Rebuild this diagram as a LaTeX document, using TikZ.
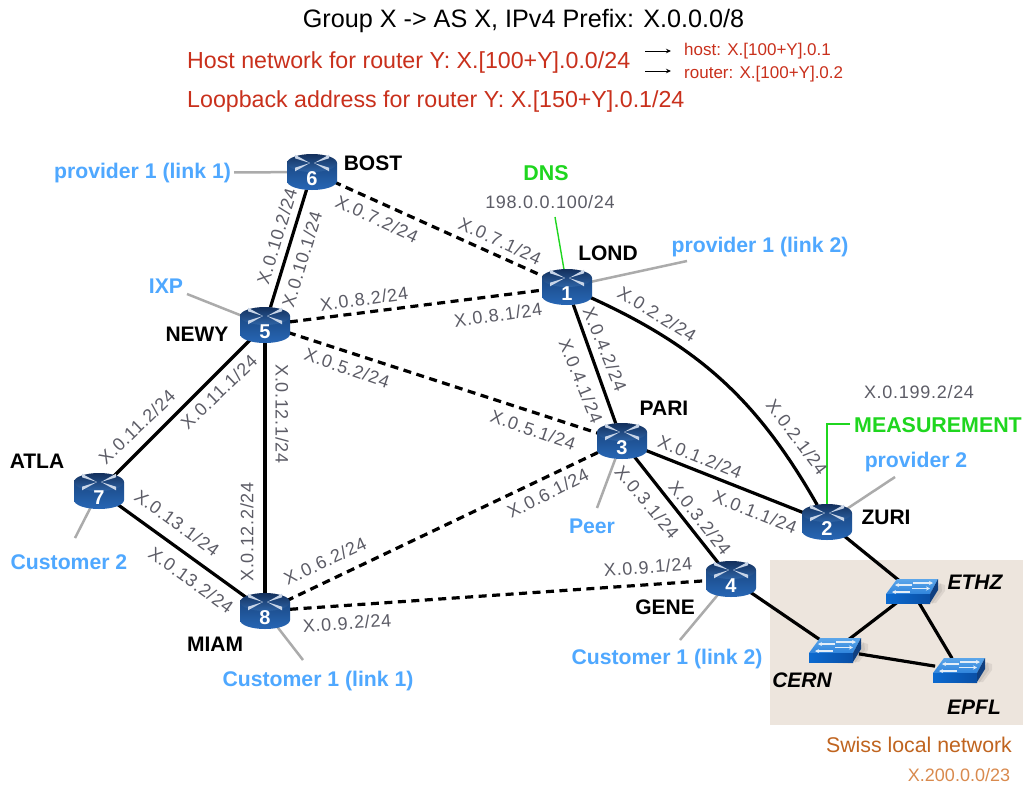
\documentclass[tikz,border=0pt]{standalone}
\usepackage{fontspec}
\setmainfont{Liberation Sans}
\newfontfamily\lblfont[LetterSpace=4]{Liberation Sans}
\usetikzlibrary{arrows.meta,shapes.geometric,backgrounds}
\definecolor{linkgrey}{HTML}{5C5C66}
\definecolor{stubgrey}{HTML}{ABABAB}
\definecolor{extblue}{HTML}{4FA8FF}
\definecolor{dnsgreen}{HTML}{1FD61F}
\definecolor{redtxt}{HTML}{C9301C}
\definecolor{swissbg}{HTML}{EDE5DD}
\definecolor{swisstxt}{HTML}{C0641F}
\definecolor{swisstxtb}{HTML}{D98A4E}
\definecolor{rdark}{HTML}{132F5C}
\definecolor{rmid}{HTML}{2E64A6}
\definecolor{rlow}{HTML}{2766B5}
\definecolor{rside}{HTML}{1B4A86}
\definecolor{rarm}{HTML}{C8D5E8}
\definecolor{stop}{HTML}{5CA6EA}
\definecolor{stopb}{HTML}{2F84DC}
\definecolor{sfront}{HTML}{0B6AD0}
\definecolor{sfrontb}{HTML}{0A4FA5}
\definecolor{sside}{HTML}{0F3F80}
\definecolor{sarrow}{HTML}{E4EEF8}
\tikzset{
  x=1pt,y=-1pt,
  plink/.style={line width=3.2pt,black},
  dlink/.style={line width=3.2pt,black,dash pattern=on 8pt off 5.5pt},
  stub/.style={line width=2.5pt,stubgrey},
  gline/.style={line width=1.4pt,dnsgreen},
  lbl/.style={inner sep=0pt,text=linkgrey,font=\fontsize{18}{18}\selectfont\lblfont},
  rname/.style={inner sep=0pt,text=black,font=\fontsize{21}{22}\selectfont\bfseries},
  swname/.style={inner sep=0pt,text=black,font=\fontsize{21}{22}\selectfont\bfseries\itshape},
  ext/.style={inner sep=0pt,text=extblue,font=\fontsize{21.2}{22}\selectfont\bfseries},
  gtxt/.style={inner sep=0pt,text=dnsgreen,font=\fontsize{21.4}{22}\selectfont\bfseries},
  smallg/.style={inner sep=0pt,text=linkgrey,font=\fontsize{18}{18}\selectfont\lblfont},
  redbig/.style={inner sep=0pt,text=redtxt,font=\fontsize{23.2}{26}\selectfont},
  redsmall/.style={inner sep=0pt,text=redtxt,font=\fontsize{17}{18}\selectfont},
  routernode/.style={ellipse,inner sep=0pt,minimum width=50pt,minimum height=36pt,text=white,font=\fontsize{20}{20}\selectfont\bfseries},
  switchnode/.style={ellipse,inner sep=0pt,minimum width=50pt,minimum height=24pt},
  swarrow/.style={sarrow,line width=1.5pt,-{Stealth[length=4pt,width=4pt]}},
  pics/routerpic/.style={code={
    \shade[top color=rside,bottom color=rlow]
      (-25,-9) -- (-25,9) .. controls (-25,14) and (-14,18) .. (0,18)
      .. controls (14,18) and (25,14) .. (25,9) -- (25,-9) -- cycle;
    \shade[top color=rdark,bottom color=rmid] (0,-9) ellipse (25 and 9);
    \foreach \a/\b in {-17/-15.5,17/-15.5,-17/-2.5,17/-2.5}{
      \fill[rarm] (\a,\b-1.8) -- (\a,\b+1.8) -- (0.12*\a,-9) -- cycle;
    }
  }},
  pics/switchpic/.style={code={
    \fill[black,opacity=.07] (-22,12) -- (24,12) -- (33,0) -- (33,-6) -- (26,-8) -- (18,14) -- cycle;
    \fill[black,opacity=.07] (20,13) -- (30,0) -- (29,-8) -- (18,6) -- cycle;
    \shade[top color=stop,bottom color=stopb] (-26,3) -- (18,3) -- (26,-12) -- (-15,-12) -- cycle;
    \shade[left color=sfront,right color=sfrontb] (-26,3) rectangle (18,12);
    \fill[sside] (18,3) -- (18,12) -- (26,-1) -- (26,-12) -- cycle;
    \draw[swarrow] (0,-6) -- (-17,-6);
    \draw[swarrow] (1,-8) -- (21,-8);
    \draw[swarrow] (-2,1) -- (-20,1);
    \draw[swarrow] (0,-2.5) -- (18,-2.5);
  }}
}
\begin{document}
\begin{tikzpicture}
\useasboundingbox (0,0) rectangle (1025,785);

% routers
\foreach \n/\px/\py in {1/567/287,2/827/522,3/622/441,4/731/579,5/265/325,6/312/172,7/99/491,8/265/611}{
  \pic at (\px,\py) {routerpic};
  \node[routernode] (r\n) at (\px,\py) {\raisebox{-13pt}[0pt][0pt]{\n}};
}
% switches
\foreach \n/\px/\py in {ethz/912/591,cern/835/650,epfl/959/670}{
  \pic at (\px,\py) {switchpic};
  \node[switchnode] (\n) at (\px,\py) {};
}

% free ends of stubs
\coordinate (sixp) at (187,294);
\coordinate (sp1l2) at (687,261);
\coordinate (speer) at (597,508);
\coordinate (sp2) at (895,477);
\coordinate (sc2) at (75,538);
\coordinate (sc1l1) at (303,660);
\coordinate (sc1l2) at (680,640);
\coordinate (sdns) at (555,217);
\coordinate (smeas) at (850,424);
\coordinate (smeasb) at (827,424);

% text labels
\node[font=\fontsize{25.2}{28}\selectfont,inner sep=0pt] (title) at (523.5,21) {Group X -> AS X, IPv4 Prefix: X.0.0.0/8};
\node[redbig,anchor=west] (hostnet) at (187,62) {Host network for router Y: X.[100+Y].0.0/24};
\node[redbig,anchor=west] (loopb) at (187,101) {Loopback address for router Y: X.[150+Y].0.1/24};
\node[redsmall,anchor=west] (hostaddr) at (684,51) {host: X.[100+Y].0.1};
\node[redsmall,anchor=west] (routeraddr) at (684,74) {router: X.[100+Y].0.2};
\coordinate (a1s) at (645,51);
\coordinate (a1e) at (671,51);
\coordinate (a2s) at (645,71);
\coordinate (a2e) at (671,71);
\draw[line width=1pt,-{Stealth[length=5pt,width=4.5pt]}] (a1s) -- (a1e);
\draw[line width=1pt,-{Stealth[length=5pt,width=4.5pt]}] (a2s) -- (a2e);

\node[rname] (nbost) at (373,163) {BOST};
\node[rname] (nlond) at (608,253) {LOND};
\node[rname] (nnewy) at (197,334) {NEWY};
\node[rname] (npari) at (664,408) {PARI};
\node[rname] (natla) at (37,461) {ATLA};
\node[rname] (nzuri) at (886,517) {ZURI};
\node[rname] (ngene) at (665,607) {GENE};
\node[rname] (nmiam) at (215,644) {MIAM};
\node[swname] (nethz) at (975,582) {ETHZ};
\node[swname] (ncern) at (802,680) {CERN};
\node[swname] (nepfl) at (974,707) {EPFL};

\node[ext] (ep1l1) at (142.5,173) {provider 1 (link 1)};
\node[ext] (eixp) at (166,286) {IXP};
\node[ext] (ep1l2) at (760,247) {provider 1 (link 2)};
\node[ext] (ep2) at (916,462) {provider 2};
\node[ext] (epeer) at (592,526) {Peer};
\node[ext] (ec2) at (69,562) {Customer 2};
\node[ext] (ec1l1) at (318,681) {Customer 1 (link 1)};
\node[ext] (ec1l2) at (667,659) {Customer 1 (link 2)};
\node[gtxt] (gdns) at (546,173) {DNS};
\node[gtxt] (gmeas) at (938,425) {MEASUREMENT};
\node[smallg] (ipdns) at (550,202) {198.0.0.100/24};
\node[smallg] (ipmeas) at (919,392) {X.0.199.2/24};
\node[inner sep=0pt,text=swisstxt,font=\fontsize{21.3}{24}\selectfont] (swiss) at (919,745) {Swiss local network};
\node[inner sep=0pt,text=swisstxtb,font=\fontsize{18}{20}\selectfont] (swissip) at (959,775) {X.200.0.0/23};

% link labels
\node[lbl,rotate=73] (l1) at (277,236) {X.0.10.2/24};
\node[lbl,rotate=73] (l2) at (302,259) {X.0.10.1/24};
\node[lbl,rotate=-25] (l3) at (377,219) {X.0.7.2/24};
\node[lbl,rotate=-25] (l4) at (500,241) {X.0.7.1/24};
\node[lbl,rotate=8] (l5) at (364,299) {X.0.8.2/24};
\node[lbl,rotate=8] (l6) at (498,315) {X.0.8.1/24};
\node[lbl,rotate=-19] (l7) at (347,368) {X.0.5.2/24};
\node[lbl,rotate=-19] (l8) at (533,430) {X.0.5.1/24};
\node[lbl,rotate=44] (l9) at (137,427) {X.0.11.2/24};
\node[lbl,rotate=44] (l10) at (219,392) {X.0.11.1/24};
\node[lbl,rotate=-90] (l11) at (282,414) {X.0.12.1/24};
\node[lbl,rotate=90] (l12) at (247,532) {X.0.12.2/24};
\node[lbl,rotate=-36] (l13) at (177,523) {X.0.13.1/24};
\node[lbl,rotate=-36] (l14) at (191,580) {X.0.13.2/24};
\node[lbl,rotate=25] (l15) at (325,561) {X.0.6.2/24};
\node[lbl,rotate=27] (l16) at (548,493) {X.0.6.1/24};
\node[lbl,rotate=4] (l17) at (347,623) {X.0.9.2/24};
\node[lbl,rotate=4.5] (l18) at (648,567) {X.0.9.1/24};
\node[lbl,rotate=-68] (l19) at (605,349) {X.0.4.2/24};
\node[lbl,rotate=-68] (l20) at (581,381) {X.0.4.1/24};
\node[lbl,rotate=-32] (l21) at (657,314) {X.0.2.2/24};
\node[lbl,rotate=-53] (l22) at (797,437) {X.0.2.1/24};
\node[lbl,rotate=-22] (l23) at (700,457) {X.0.1.2/24};
\node[lbl,rotate=-22] (l24) at (755,512) {X.0.1.1/24};
\node[lbl,rotate=-50] (l25) at (647,502) {X.0.3.1/24};
\node[lbl,rotate=-52] (l26) at (700,518) {X.0.3.2/24};

% connectors
\begin{scope}[on background layer]
\fill[white] (0,0) rectangle (1025,785);
\fill[swissbg] (770,560) rectangle (1023,725);
\draw[stub,shorten <=3pt] (ep1l1) -- (r6);
\draw[stub] (sixp) -- (r5);
\draw[stub] (sp1l2) -- (r1);
\draw[stub] (speer) -- (r3);
\draw[stub] (sp2) -- (r2);
\draw[stub] (sc2) -- (r7);
\draw[stub] (sc1l1) -- (r8);
\draw[stub] (sc1l2) -- (r4);
\draw[gline] (sdns) -- (r1);
\draw[gline] (smeas) -- (smeasb) -- (r2);
\draw[plink] (r6) -- (r5);
\draw[plink] (r5) -- (r7);
\draw[plink] (r5) -- (r8);
\draw[plink] (r7) -- (r8);
\draw[plink] (r1) -- (r3);
\draw[plink] (r3) -- (r2);
\draw[plink] (r3) -- (r4);
\draw[plink] (r1) to[bend left=18] (r2);
\draw[dlink] (r6) -- (r1);
\draw[dlink] (r5) -- (r1);
\draw[dlink] (r5) -- (r3);
\draw[dlink] (r8) -- (r3);
\draw[dlink] (r8) -- (r4);
\draw[plink] (r2) -- (ethz);
\draw[plink] (r4) -- (cern);
\draw[plink] (ethz) -- (cern);
\draw[plink] (ethz) -- (epfl);
\draw[plink] (cern) -- (epfl);
\end{scope}
\end{tikzpicture}
\end{document}
